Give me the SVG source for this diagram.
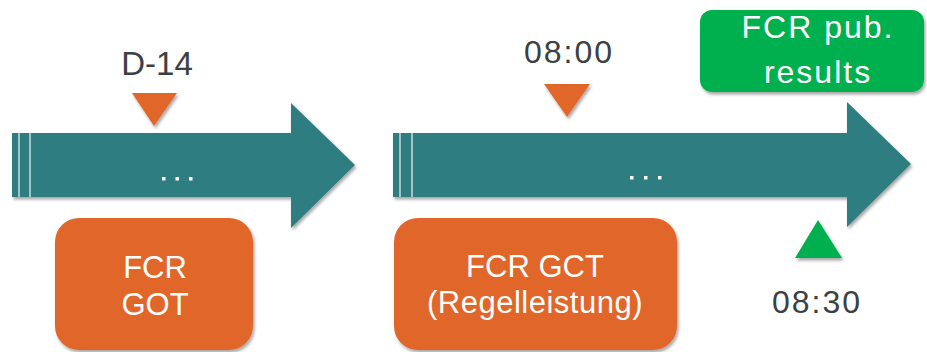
<svg xmlns="http://www.w3.org/2000/svg" width="927" height="352" viewBox="0 0 927 352">
<defs>
<filter id="sh" x="-10%" y="-10%" width="130%" height="140%">
<feDropShadow dx="1.5" dy="2.5" stdDeviation="1.8" flood-color="#000" flood-opacity="0.35"/>
</filter>
<style>
.arrow{fill:#2f7d80;filter:url(#sh)}
.stripe{stroke:#e6eaea;stroke-width:1.3}
.dot{fill:#ffffff}
.orange{fill:#e0662a}
.green{fill:#00b050}
.box{filter:url(#sh)}
.lbl{font-family:"Liberation Sans",Arial,sans-serif;font-size:33px;fill:#3b4045;text-anchor:middle}
.time{letter-spacing:2px;font-size:32px}
.wt{font-family:"Liberation Sans",Arial,sans-serif;font-size:31px;fill:#ffffff;text-anchor:middle}
</style>
</defs>
<rect width="927" height="352" fill="#ffffff"/>

<g id="arrow1">
<path class="arrow" d="M12,133 H291 V103 L355,165 L291,228 V197 H12 Z"/>
<line class="stripe" x1="19" y1="133" x2="19" y2="197"/>
<line class="stripe" x1="30" y1="133" x2="30" y2="197"/>
<rect class="dot" x="162" y="177" width="3.5" height="3.5"/>
<rect class="dot" x="175.5" y="177" width="3.5" height="3.5"/>
<rect class="dot" x="189" y="177" width="3.5" height="3.5"/>
</g>

<g id="arrow2">
<path class="arrow" d="M393,133 H847 V102 L911,164 L847,227 V197 H393 Z"/>
<line class="stripe" x1="400" y1="133" x2="400" y2="197"/>
<line class="stripe" x1="412" y1="133" x2="412" y2="197"/>
<rect class="dot" x="630" y="176" width="3.5" height="3.5"/>
<rect class="dot" x="644" y="176" width="3.5" height="3.5"/>
<rect class="dot" x="658" y="176" width="3.5" height="3.5"/>
</g>

<g id="marker-d14">
<text class="lbl" x="157" y="75">D-14</text>
<polygon class="orange box" points="132,93 177,93 154,126"/>
</g>

<g id="marker-0800">
<text class="lbl time" x="569" y="63">08:00</text>
<polygon class="orange box" points="544,84 590,84 567,117"/>
</g>

<g id="marker-0830">
<polygon class="green box" points="818,220 842,258 795,258"/>
<text class="lbl time" x="817" y="313">08:30</text>
</g>

<g id="box-got">
<rect class="orange box" x="55" y="218" width="198" height="132" rx="24"/>
<text class="wt" x="155" y="278">FCR</text>
<text class="wt" x="155" y="315">GOT</text>
</g>

<g id="box-gct">
<rect class="orange box" x="394" y="218" width="283" height="132" rx="24"/>
<text class="wt" x="535" y="277">FCR GCT</text>
<text class="wt" x="535" y="313" style="letter-spacing:0.5px">(Regelleistung)</text>
</g>

<g id="box-pub">
<rect class="green box" x="700" y="10" width="224" height="82" rx="12"/>
<text class="wt" x="818" y="38" style="letter-spacing:2px;font-size:32px">FCR pub.</text>
<text class="wt" x="818" y="83" style="letter-spacing:2px;font-size:32px">results</text>
</g>

<g id="connectors"></g>
</svg>
